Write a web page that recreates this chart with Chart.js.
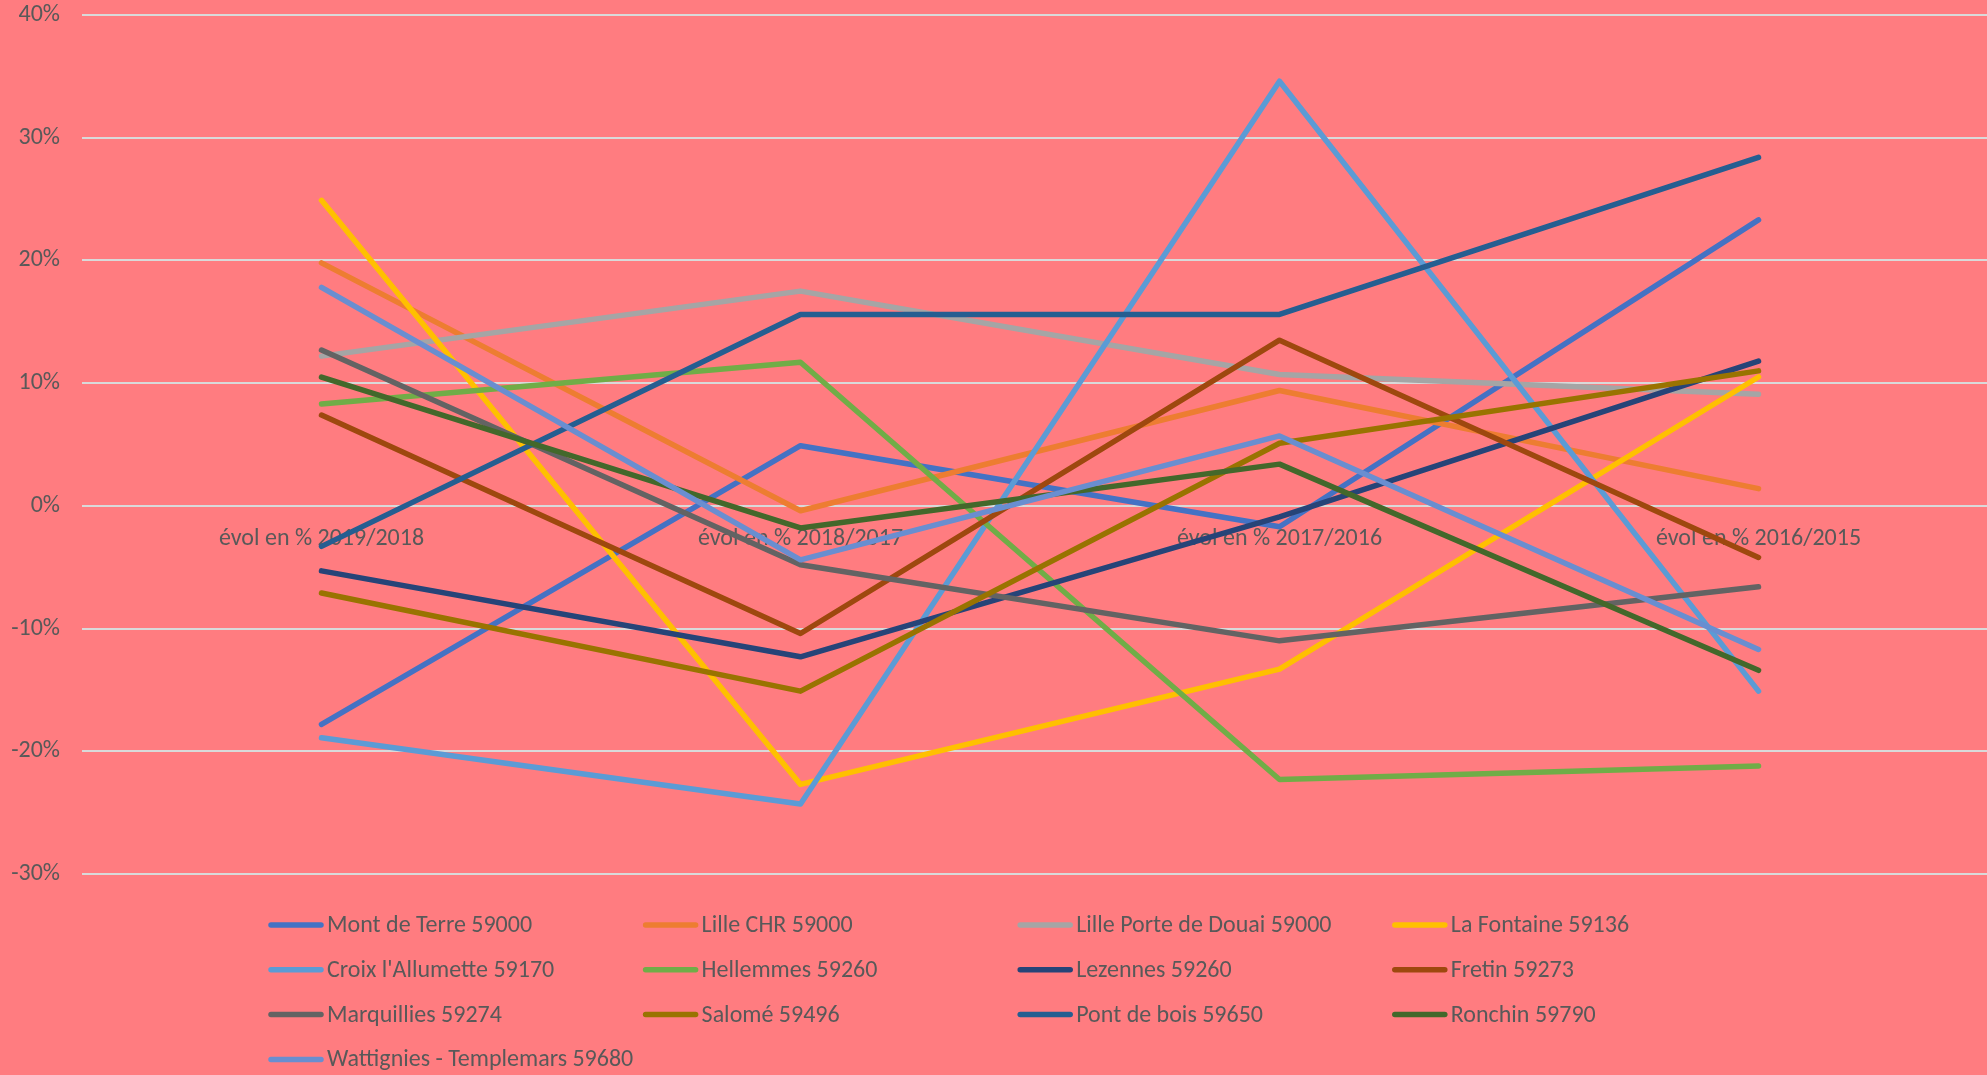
<!DOCTYPE html>
<html>
<head>
<meta charset="utf-8">
<script src="https://cdn.jsdelivr.net/npm/chart.js@4/dist/chart.umd.min.js"></script>
<style>
  html, body { margin: 0; padding: 0; background: #FF7C80; overflow: hidden; width: 1987px; height: 1075px; }
  #wrap { position: absolute; left: 0; top: 0; width: 2000px; height: 1075px; }
</style>
</head>
<body>
<div id="wrap"><canvas id="c" width="2000" height="1075"></canvas></div>
<script>
const categories = ['évol en % 2019/2018', 'évol en % 2018/2017', 'évol en % 2017/2016', 'évol en % 2016/2015'];
const seriesNames = [
  'Mont de Terre 59000', 'Lille CHR 59000', 'Lille Porte de Douai 59000', 'La Fontaine 59136',
  "Croix l'Allumette 59170", 'Hellemmes 59260', 'Lezennes 59260', 'Fretin 59273',
  'Marquillies 59274', 'Salomé 59496', 'Pont de bois 59650', 'Ronchin 59790',
  'Wattignies - Templemars 59680'
];
const montDeTerre   = [-0.178,  0.049, -0.017,  0.233];
const lilleCHR      = [ 0.198, -0.004,  0.094,  0.014];
const lillePorte    = [ 0.122,  0.175,  0.107,  0.091];
const laFontaine    = [ 0.249, -0.227, -0.133,  0.105];
const croixAllum    = [-0.189, -0.243,  0.346, -0.151];
const hellemmes     = [ 0.083,  0.117, -0.223, -0.212];
const lezennes      = [-0.053, -0.123, -0.009,  0.118];
const fretin        = [ 0.074, -0.104,  0.135, -0.042];
const marquillies   = [ 0.127, -0.048, -0.110, -0.066];
const salome        = [-0.071, -0.151,  0.051,  0.110];
const pontDeBois    = [-0.033,  0.156,  0.156,  0.284];
const ronchin       = [ 0.105, -0.018,  0.034, -0.134];
const wattignies    = [ 0.178, -0.044,  0.057, -0.117];
const seriesValues = [montDeTerre, lilleCHR, lillePorte, laFontaine, croixAllum, hellemmes,
  lezennes, fretin, marquillies, salome, pontDeBois, ronchin, wattignies];
const seriesColors = ['#4472C4', '#ED7D31', '#A5A5A5', '#FFC000', '#5B9BD5', '#70AD47',
  '#264478', '#9E480E', '#636363', '#997300', '#255E91', '#43682B', '#698ED0'];
const yTicks = [-0.3, -0.2, -0.1, 0, 0.1, 0.2, 0.3, 0.4];

const FONT = 'Carlito, Calibri, Lato, sans-serif';
const TEXT = '#595959';
const FSIZE = 24;

const datasets = seriesNames.map((name, i) => ({
  label: name,
  data: seriesValues[i],
  borderColor: seriesColors[i],
  backgroundColor: seriesColors[i],
  borderWidth: 5.5,
  borderCapStyle: 'round',
  borderJoinStyle: 'round',
  pointRadius: 0,
  tension: 0,
  fill: false,
  order: seriesNames.length - i
}));

const gridLegend = {
  id: 'gridLegend',
  afterDraw(chart) {
    const ctx = chart.ctx;
    ctx.save();
    ctx.font = FSIZE + 'px ' + FONT;
    ctx.textBaseline = 'middle';
    ctx.textAlign = 'left';
    chart.data.datasets.forEach((ds, i) => {
      const col = i % 4, row = Math.floor(i / 4);
      const x0 = 269 + col * 374.6;
      const y = 925 + row * 44.8;
      ctx.strokeStyle = ds.borderColor;
      ctx.lineWidth = 5.5;
      ctx.lineCap = 'round';
      ctx.beginPath();
      ctx.moveTo(x0 + 2, y);
      ctx.lineTo(x0 + 52, y);
      ctx.stroke();
      ctx.fillStyle = TEXT;
      ctx.fillText(ds.label, x0 + 58, y + 1);
    });
    ctx.restore();
  }
};

new Chart(document.getElementById('c'), {
  type: 'line',
  data: { labels: categories, datasets },
  plugins: [gridLegend],
  options: {
    responsive: false,
    animation: false,
    layout: { padding: { top: 15, right: 2, bottom: 201, left: 0 } },
    plugins: { legend: { display: false }, tooltip: { enabled: false } },
    scales: {
      x: {
        position: { y: 0 },
        offset: true,
        grid: { display: false, drawTicks: false },
        border: { display: false },
        ticks: { color: TEXT, font: { family: FONT, size: FSIZE }, padding: 19, maxRotation: 0, autoSkip: false }
      },
      y: {
        min: -0.3, max: 0.4,
        afterFit(scale) { scale.width = 82; scale.paddingTop = 0; scale.paddingBottom = 0; },
        afterBuildTicks(scale) { scale.ticks = yTicks.map(v => ({ value: v })); },
        grid: { color: '#D9D9D9', lineWidth: 2, drawTicks: false },
        border: { display: false },
        ticks: {
          color: TEXT, font: { family: FONT, size: FSIZE }, padding: 22,
          callback: v => Math.round(v * 100) + '%'
        }
      }
    }
  }
});
</script>
</body>
</html>
